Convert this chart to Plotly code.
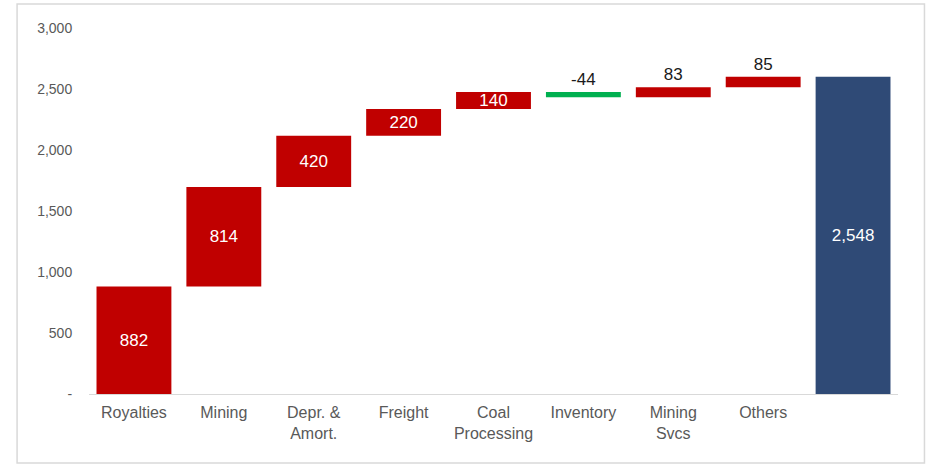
import numpy as np
import plotly.graph_objects as go

# ---- data ----
categories = ["Royalties", "Mining", "Depr. & Amort.", "Freight", "Coal Processing",
              "Inventory", "Mining Svcs", "Others", "Total"]
tick_labels = ["Royalties", "Mining", "Depr. &<br>Amort.", "Freight", "Coal<br>Processing",
               "Inventory", "Mining<br>Svcs", "Others", ""]
step_values = [882, 814, 420, 220, 140, -44, 83, 85]
total_label = "2,548"
y_tick_vals = [0, 500, 1000, 1500, 2000, 2500, 3000]
y_tick_text = ["-", "500", "1,000", "1,500", "2,000", "2,500", "3,000"]

# ---- derived through data ----
vals = np.array(step_values, dtype=float)
ends = np.cumsum(vals)
starts = ends - vals
bases = list(np.minimum(starts, ends)) + [0.0]
heights = list(np.abs(vals)) + [float(ends[-1])]
texts = [f"{v:,.0f}" for v in step_values] + [total_label]

RED, GREEN, NAVY = "#C00000", "#00B050", "#2F4A76"
colors = [GREEN if v < 0 else RED for v in step_values] + [NAVY]
# small bars get their label above, others inside
text_pos = ["outside" if abs(v) < 100 else "inside" for v in step_values] + ["inside"]
text_colors = ["#1a1a1a" if p == "outside" else "white" for p in text_pos]

fig = go.Figure(go.Bar(
    x=categories, y=heights, base=bases,
    marker=dict(color=colors, line=dict(width=0)),
    text=texts, textposition=text_pos,
    insidetextanchor="middle",
    textfont=dict(color=text_colors, size=17, family="Liberation Sans, Arial, sans-serif"),
    constraintext="none", cliponaxis=False,
    hoverinfo="skip",
))

fig.update_layout(
    width=928, height=468,
    margin=dict(l=88.5, r=29.5, t=28, b=74),
    paper_bgcolor="white", plot_bgcolor="white",
    bargap=0.167, showlegend=False,
    font=dict(family="Liberation Sans, Arial, sans-serif", color="#595959"),
    xaxis=dict(
        tickmode="array", tickvals=categories, ticktext=tick_labels,
        tickfont=dict(size=16, color="#595959"),
        showline=True, linecolor="#D9D9D9", linewidth=1,
        ticks="outside", ticklen=4, tickcolor="rgba(0,0,0,0)",
        showgrid=False, zeroline=False, fixedrange=True,
    ),
    yaxis=dict(
        range=[0, 3000], tickmode="array", tickvals=y_tick_vals, ticktext=y_tick_text,
        tickfont=dict(size=14, color="#595959"),
        showline=False, showgrid=False, zeroline=False,
        ticks="outside", ticklen=13, tickcolor="rgba(0,0,0,0)", fixedrange=True,
    ),
    shapes=[dict(type="rect", xref="paper", yref="paper",
                 x0=-0.0889, x1=1.0327, y0=-0.1885, y1=1.0656,
                 line=dict(color="#D9D9D9", width=1.5), fillcolor="rgba(0,0,0,0)", layer="below")],
)

fig.write_html("out.html", config={"displayModeBar": False},
               post_script="document.body.style.margin='0';document.body.style.overflow='hidden';")
